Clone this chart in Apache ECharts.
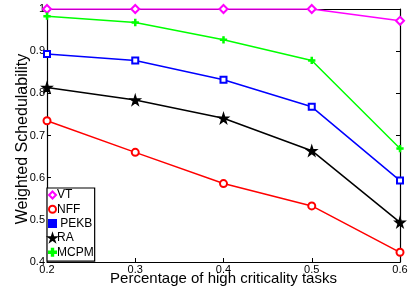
<!DOCTYPE html>
<html>
<head>
<meta charset="UTF-8">
<title>Weighted Schedulability</title>
<script src="https://cdn.jsdelivr.net/npm/echarts@6/dist/echarts.min.js"></script>
<style>
  html, body { margin: 0; padding: 0; background: #fff; }
  #chart { width: 417px; height: 291px; }
</style>
</head>
<body>
<div id="chart"></div>
<script type="text/javascript">
// x: percentage of high criticality tasks
var xValues = [0.2, 0.3, 0.4, 0.5, 0.6];
var vt   = [1.0,   1.0,   1.0,   1.0,   0.972];
var nff  = [0.735, 0.660, 0.586, 0.533, 0.423];
var pekb = [0.893, 0.878, 0.832, 0.768, 0.593];
var ra   = [0.814, 0.784, 0.741, 0.664, 0.494];
var mcpm = [0.983, 0.968, 0.927, 0.878, 0.669];

var starPath = 'path://M50,0 L61,35 L98,35 L68,57 L79,91 L50,70 L21,91 L32,57 L2,35 L39,35 Z';
var plusPath = 'path://M40,0 L60,0 L60,40 L100,40 L100,60 L60,60 L60,100 L40,100 L40,60 L0,60 L0,40 L40,40 Z';

function pairs(ys) {
    var out = [];
    for (var i = 0; i < xValues.length; i++) out.push([xValues[i], ys[i]]);
    return out;
}

function mkSeries(name, ys, color, symbol, size) {
    return {
        name: name,
        type: 'line',
        data: pairs(ys),
        symbol: symbol,
        symbolSize: size,
        showSymbol: true,
        lineStyle: { color: color, width: 1.5 },
        itemStyle: { color: color, borderColor: color, borderWidth: 1.3 },
        emphasis: { disabled: true },
        animation: false,
        z: 3
    };
}

var myChart = echarts.init(document.getElementById('chart'));
var font = 'Liberation Sans, Arial, Helvetica, sans-serif';
var option = {
    backgroundColor: '#fff',
    animation: false,
    textStyle: { fontFamily: font },
    grid: { left: 47, right: 17, top: 9, bottom: 29, containLabel: false, outerBoundsMode: 'none' },
    legend: {
        orient: 'vertical',
        left: 47,
        top: 188,
        padding: [1, 1, 3, 1],
        itemGap: 2.3,
        itemWidth: 7,
        itemHeight: 7,
        backgroundColor: '#fff',
        borderColor: '#000',
        borderWidth: 1.2,
        textStyle: { fontFamily: font, fontSize: 12, color: '#000', padding: [0, 0, 0, -4] },
        formatter: function (n) { return n === 'PEKB' ? ' PEKB' : n; },
        data: [
            { name: 'VT', icon: 'emptyDiamond' },
            { name: 'NFF', icon: 'emptyCircle' },
            { name: 'PEKB', icon: 'rect' },
            { name: 'RA', icon: starPath },
            { name: 'MCPM', icon: plusPath }
        ],
        z: 10
    },
    xAxis: [{
        type: 'value',
        min: 0.2, max: 0.6, interval: 0.1,
        name: 'Percentage of high criticality tasks',
        nameLocation: 'middle',
        nameGap: 9,
        nameMoveOverlap: false,
        nameTextStyle: { fontSize: 15, color: '#000', fontFamily: font },
        axisLine: { lineStyle: { color: '#000', width: 1.2 } },
        axisTick: { inside: true, length: 4, lineStyle: { color: '#000' } },
        axisLabel: { fontSize: 11, color: '#000', margin: 2,
            formatter: function (v) { return v.toFixed(1); } },
        splitLine: { show: false }
    }, {
        type: 'value', position: 'top',
        min: 0.2, max: 0.6, interval: 0.1,
        axisLine: { lineStyle: { color: '#000', width: 1.2 } },
        axisTick: { inside: true, length: 4, lineStyle: { color: '#000' } },
        axisLabel: { show: false },
        splitLine: { show: false }
    }],
    yAxis: [{
        type: 'value',
        min: 0.4, max: 1, interval: 0.1,
        name: 'Weighted Schedulability',
        nameLocation: 'middle',
        nameGap: 16,
        nameMoveOverlap: false,
        nameTextStyle: { fontSize: 16, color: '#000', fontFamily: font, padding: [0, 7, 0, 0] },
        axisLine: { lineStyle: { color: '#000', width: 1.2 } },
        axisTick: { inside: true, length: 4, lineStyle: { color: '#000' } },
        axisLabel: { fontSize: 11, color: '#000', margin: 2,
            formatter: function (v) { return v >= 0.999 ? '1' : v.toFixed(1); } },
        splitLine: { show: false }
    }, {
        type: 'value', position: 'right',
        min: 0.4, max: 1, interval: 0.1,
        axisLine: { show: true, lineStyle: { color: '#000', width: 1.2 } },
        axisTick: { show: true, inside: true, length: 4, lineStyle: { color: '#000' } },
        axisLabel: { show: false },
        splitLine: { show: false }
    }],
    series: [
        mkSeries('VT', vt, '#ff00ff', 'emptyDiamond', 8),
        mkSeries('NFF', nff, '#ff0000', 'emptyCircle', 7),
        mkSeries('PEKB', pekb, '#0000ff', 'emptyRect', 6),
        mkSeries('RA', ra, '#000000', starPath, 10),
        mkSeries('MCPM', mcpm, '#00ff00', plusPath, 6)
    ]
};
myChart.setOption(option);
</script>
</body>
</html>
